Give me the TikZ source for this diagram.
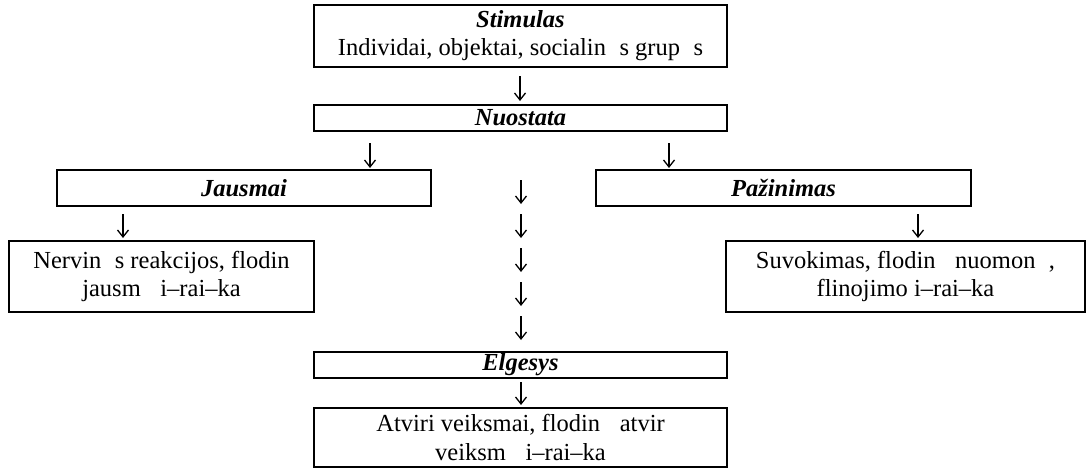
\documentclass[tikz,border=0pt]{standalone}
\usepackage{fontspec}
\setmainfont{Liberation Serif}
\usetikzlibrary{arrows.meta}
\newcommand{\gp}{\hspace{0.55em}}
\begin{document}
\begin{tikzpicture}[x=1pt,y=-1pt,
  box/.style={draw, line width=2.5pt, inner sep=0pt, align=center,
    font=\fontsize{24.5}{28.2}\selectfont},
  ttl/.style={box, font=\fontsize{24.5}{28.2}\selectfont\bfseries\itshape},
  arr/.style={line width=1.3pt, -{Straight Barb[length=7pt,width=11pt]}}]
\useasboundingbox (0,0) rectangle (1087,469);
% boxes
\node[box, minimum width=413pt, minimum height=62pt] (stim) at (520.5,36)
  {\textbf{\textit{Stimulas}}\\Individai, objektai, socialin\gp s grup\gp s};
\node[ttl, minimum width=413pt, minimum height=26pt] (nuo) at (520.5,118) {Nuostata};
\node[ttl, minimum width=374pt, minimum height=36pt] (jaus) at (244,188) {Jausmai};
\node[ttl, minimum width=375pt, minimum height=36pt] (paz) at (783.5,188) {Pažinimas};
\node[box, minimum width=305pt, minimum height=71pt] (nerv) at (161.5,276.5)
  {Nervin\gp s reakcijos, flodin\\jausm\gp{} i–rai–ka};
\node[box, minimum width=359pt, minimum height=71pt] (suv) at (905.5,276.5)
  {Suvokimas, flodin\gp{} nuomon\gp ,\\flinojimo i–rai–ka};
\node[ttl, minimum width=413pt, minimum height=26pt] (elg) at (520.5,365) {Elgesys};
\node[box, minimum width=413pt, minimum height=59pt] (atv) at (520.5,437.5)
  {Atviri veiksmai, flodin\gp{} atvir\\veiksm\gp{} i–rai–ka};
% arrow end points
\coordinate (a1s) at (520,76);  \coordinate (a1e) at (520,101);
\coordinate (a2s) at (370,143); \coordinate (a2e) at (370,168);
\coordinate (a3s) at (669,143); \coordinate (a3e) at (669,168);
\coordinate (a4s) at (123,214); \coordinate (a4e) at (123,238);
\coordinate (a5s) at (918,214); \coordinate (a5e) at (918,238);
\coordinate (m1s) at (521,180); \coordinate (m1e) at (521,204);
\coordinate (m2s) at (521,214); \coordinate (m2e) at (521,238);
\coordinate (m3s) at (521,248); \coordinate (m3e) at (521,272);
\coordinate (m4s) at (521,282); \coordinate (m4e) at (521,306);
\coordinate (m5s) at (521,316); \coordinate (m5e) at (521,340);
\coordinate (a6s) at (521,382); \coordinate (a6e) at (521,405);
\foreach \a in {a1,a2,a3,a4,a5,m1,m2,m3,m4,m5,a6}
  \draw[arr] (\a s) -- (\a e);
\end{tikzpicture}
\end{document}
